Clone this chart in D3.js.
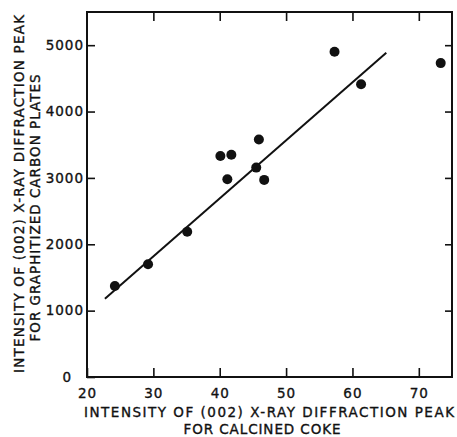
<!DOCTYPE html>
<html>
<head>
<meta charset="utf-8">
<script src="https://cdn.jsdelivr.net/npm/d3@7"></script>
<style>
  html, body { margin: 0; padding: 0; background: #fff; }
  svg { display: block; }
  text { font-family: "DejaVu Sans", sans-serif; fill: #111; stroke: #111; stroke-width: 0.35px; }
</style>
</head>
<body>
<script>
// (002) peak intensity: calcined coke vs. graphitized carbon plates
const cokeIntensity  = [24.2, 29.2, 35.1, 40.1, 41.15, 41.75, 45.5, 45.9, 46.7, 57.3, 61.3, 73.3];
const plateIntensity = [1370, 1700, 2190, 3330, 2980, 3350, 3155, 3580, 2970, 4900, 4410, 4730];

// fitted straight line, given by its two end points
const fitX = [22.7, 65.1];
const fitY = [1180, 4885];

const xTicks = [20, 30, 40, 50, 60, 70];
const yTicks = [0, 1000, 2000, 3000, 4000, 5000];

const xTitle = ["INTENSITY  OF  (002)  X-RAY  DIFFRACTION  PEAK", "FOR  CALCINED  COKE"];
const yTitle = ["INTENSITY  OF  (002)  X-RAY  DIFFRACTION  PEAK", "FOR  GRAPHITIZED  CARBON  PLATES"];

const W = 457, H = 437;
const svg = d3.select("body").append("svg").attr("width", W).attr("height", H);

const x = d3.scaleLinear().domain([20, 75]).range([87, 452]);
const y = d3.scaleLinear().domain([0, 5500]).range([377, 12]);

const ink = "#111";

// inward ticks on all four sides
const bottom = svg.append("g").attr("transform", `translate(0,${y(0)})`)
  .call(d3.axisBottom(x).tickValues(xTicks).tickSize(-9).tickPadding(11).tickFormat(d3.format("d")));
const left = svg.append("g").attr("transform", `translate(${x(20)},0)`)
  .call(d3.axisLeft(y).tickValues(yTicks).tickSize(-8).tickPadding(3).tickFormat(d3.format("d")));
svg.append("g").attr("transform", `translate(0,${y(5500)})`)
  .call(d3.axisTop(x).tickValues(xTicks.slice(1)).tickSize(-9).tickFormat(""));
svg.append("g").attr("transform", `translate(${x(75)},0)`)
  .call(d3.axisRight(y).tickValues(yTicks.slice(1)).tickSize(-7).tickFormat(""));

svg.selectAll(".domain").remove();
svg.selectAll(".tick line").attr("stroke", ink).attr("stroke-width", 1.6);
svg.selectAll(".tick text").attr("font-size", 13.5).attr("letter-spacing", 1)
  .attr("font-family", "DejaVu Sans").attr("fill", ink);
left.selectAll(".tick").filter(d => d === 0).select("text").attr("x", -15);

// plot frame
svg.append("rect")
  .attr("x", x(20)).attr("y", y(5500))
  .attr("width", x(75) - x(20)).attr("height", y(0) - y(5500))
  .attr("fill", "none").attr("stroke", ink).attr("stroke-width", 2);

// fitted line
svg.append("line")
  .attr("x1", x(fitX[0])).attr("y1", y(fitY[0]))
  .attr("x2", x(fitX[1])).attr("y2", y(fitY[1]))
  .attr("stroke", ink).attr("stroke-width", 2);

// data points
svg.append("g").selectAll("circle")
  .data(cokeIntensity.map((c, i) => [c, plateIntensity[i]]))
  .join("circle")
  .attr("cx", d => x(d[0])).attr("cy", d => y(d[1]))
  .attr("r", 5).attr("fill", ink);

// axis titles
svg.append("text").attr("x", 84).attr("y", 417).attr("font-size", 13.5)
  .attr("textLength", 370).attr("lengthAdjust", "spacing").text(xTitle[0]);
svg.append("text").attr("x", 262).attr("y", 434).attr("font-size", 13.5)
  .attr("text-anchor", "middle").attr("textLength", 157).attr("lengthAdjust", "spacing").text(xTitle[1]);

svg.append("text").attr("transform", "translate(24,194) rotate(-90)").attr("font-size", 13.5)
  .attr("text-anchor", "middle").attr("textLength", 358).attr("lengthAdjust", "spacing").text(yTitle[0]);
svg.append("text").attr("transform", "translate(40,208) rotate(-90)").attr("font-size", 13.5)
  .attr("text-anchor", "middle").attr("textLength", 267).attr("lengthAdjust", "spacing").text(yTitle[1]);
</script>
</body>
</html>
